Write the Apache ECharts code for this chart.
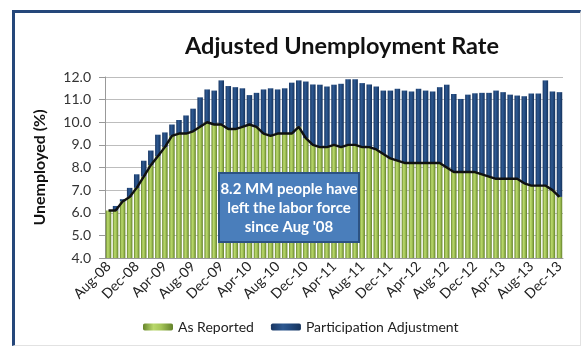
<!DOCTYPE html>
<html>
<head>
<meta charset="utf-8">
<script src="https://cdn.jsdelivr.net/npm/echarts@6/dist/echarts.min.js"></script>
<style>
  html, body { margin: 0; padding: 0; background: #ffffff; }
  #frame {
    position: absolute; left: 12px; top: 10px; width: 565px; height: 332px;
    border-left: 3px solid #25477a; border-top: 3px solid #25477a;
    border-right: 1px solid #e2e2e2; border-bottom: 1px solid #e2e2e2;
  }
  #chart { position: absolute; left: 0; top: 0; width: 582px; height: 347px; }
</style>
</head>
<body>
<div id="frame"></div>
<div id="chart"></div>
<script>
// Monthly categories, Aug-08 through Dec-13
const months = [
  'Aug-08','Sep-08','Oct-08','Nov-08','Dec-08',
  'Jan-09','Feb-09','Mar-09','Apr-09','May-09','Jun-09','Jul-09','Aug-09','Sep-09','Oct-09','Nov-09','Dec-09',
  'Jan-10','Feb-10','Mar-10','Apr-10','May-10','Jun-10','Jul-10','Aug-10','Sep-10','Oct-10','Nov-10','Dec-10',
  'Jan-11','Feb-11','Mar-11','Apr-11','May-11','Jun-11','Jul-11','Aug-11','Sep-11','Oct-11','Nov-11','Dec-11',
  'Jan-12','Feb-12','Mar-12','Apr-12','May-12','Jun-12','Jul-12','Aug-12','Sep-12','Oct-12','Nov-12','Dec-12',
  'Jan-13','Feb-13','Mar-13','Apr-13','May-13','Jun-13','Jul-13','Aug-13','Sep-13','Oct-13','Nov-13','Dec-13'
];

// Reported unemployment rate (%)
const asReported = [
  6.1, 6.1, 6.5, 6.7, 7.1,
  7.6, 8.1, 8.5, 8.9, 9.4, 9.5, 9.5, 9.6, 9.8, 10.0, 9.9, 9.9,
  9.7, 9.7, 9.8, 9.9, 9.8, 9.5, 9.4, 9.5, 9.5, 9.5, 9.8, 9.3,
  9.0, 8.9, 8.9, 9.0, 8.9, 9.0, 9.0, 8.9, 8.9, 8.8, 8.6, 8.4,
  8.3, 8.2, 8.2, 8.2, 8.2, 8.2, 8.2, 8.0, 7.8, 7.8, 7.8, 7.8,
  7.7, 7.6, 7.5, 7.5, 7.5, 7.5, 7.3, 7.2, 7.2, 7.2, 7.0, 6.7
];

// Extra points from people who left the labor force (stacked on top)
const participationAdjustment = [
  0.0, 0.2, 0.1, 0.4, 0.6,
  0.7, 0.65, 0.95, 0.65, 0.5, 0.6, 0.8, 1.0, 1.3, 1.45, 1.5, 1.95,
  1.9, 1.85, 1.7, 1.3, 1.5, 1.95, 2.1, 1.95, 2.0, 2.25, 2.05, 2.5,
  2.67, 2.76, 2.68, 2.66, 2.8, 2.9, 2.9, 2.83, 2.77, 2.78, 2.8, 3.0,
  3.18, 3.2, 3.16, 3.28, 3.2, 3.16, 3.35, 3.66, 3.45, 3.23, 3.42, 3.48,
  3.6, 3.7, 3.9, 3.83, 3.72, 3.68, 3.85, 4.07, 4.07, 4.65, 4.36, 4.63
];

const yTicks = { min: 4, max: 12, step: 1 };

const FONT = 'Lato, "Open Sans", sans-serif';

const greenFill = new echarts.graphic.LinearGradient(0, 0, 1, 0, [
  { offset: 0, color: '#66852a' },
  { offset: 0.35, color: '#b9d86c' },
  { offset: 0.6, color: '#a5c558' },
  { offset: 1, color: '#62812a' }
]);
const blueFill = new echarts.graphic.LinearGradient(0, 0, 1, 0, [
  { offset: 0, color: '#193763' },
  { offset: 0.4, color: '#2d5890' },
  { offset: 0.6, color: '#244c82' },
  { offset: 1, color: '#16335c' }
]);

const chart = echarts.init(document.getElementById('chart'), null, { renderer: 'canvas' });

chart.setOption({
  animation: false,
  backgroundColor: 'transparent',
  title: {
    text: 'Adjusted Unemployment Rate',
    left: 337, top: 29, textAlign: 'center',
    textStyle: { fontFamily: FONT, fontSize: 23.5, fontWeight: 'bold', color: '#111' }
  },
  legend: {
    bottom: 8, left: 138,
    itemWidth: 30, itemHeight: 7, itemGap: 17,
    data: ['As Reported', 'Participation Adjustment'],
    textStyle: { fontFamily: FONT, fontSize: 14, color: '#222' }
  },
  grid: { left: 105, right: 19, top: 77, bottom: 89, containLabel: false },
  xAxis: {
    type: 'category',
    data: months,
    boundaryGap: true,
    axisLine: { lineStyle: { color: '#999' } },
    axisTick: { interval: 3, alignWithLabel: true, lineStyle: { color: '#999' } },
    axisLabel: {
      interval: 3, rotate: 45, fontFamily: FONT, fontSize: 14, color: '#222', margin: 6
    },
    splitLine: { show: false }
  },
  yAxis: {
    type: 'value',
    min: yTicks.min, max: yTicks.max, interval: yTicks.step,
    name: 'Unemployed (%)',
    nameLocation: 'middle', nameGap: 57,
    nameTextStyle: { fontFamily: FONT, fontSize: 16, fontWeight: 'bold', color: '#111' },
    axisLine: { show: true, lineStyle: { color: '#999' } },
    axisTick: { show: true, length: 6, lineStyle: { color: '#999' } },
    axisLabel: {
      fontFamily: FONT, fontSize: 14, color: '#333', margin: 14,
      formatter: v => v.toFixed(1)
    },
    splitLine: { lineStyle: { color: '#bdbdbd', width: 1 } }
  },
  series: [
    {
      name: 'As Reported', type: 'bar', stack: 'rate',
      data: asReported, barCategoryGap: '22%',
      itemStyle: { color: greenFill },
      emphasis: { disabled: true }
    },
    {
      name: 'Participation Adjustment', type: 'bar', stack: 'rate',
      data: participationAdjustment,
      itemStyle: { color: blueFill },
      emphasis: { disabled: true }
    },
    {
      name: 'Reported line', type: 'line', data: asReported,
      symbol: 'none', z: 5,
      lineStyle: { color: '#111', width: 2.4 },
      emphasis: { disabled: true }
    }
  ],
  graphic: [
    {
      type: 'group', left: 218, top: 172, z: 100,
      children: [
        {
          type: 'rect', z: 100, shape: { x: 0, y: 0, width: 140, height: 69 },
          style: { fill: '#4a7ebb', stroke: '#2c5283', lineWidth: 2 }
        },
        {
          type: 'text', z: 101, x: 70, y: 35,
          style: {
            text: "8.2 MM people have\nleft the labor force\nsince Aug '08",
            fill: '#ffffff', font: 'bold 15px ' + FONT,
            align: 'center', verticalAlign: 'middle', lineHeight: 19
          }
        }
      ]
    }
  ]
});
</script>
</body>
</html>
